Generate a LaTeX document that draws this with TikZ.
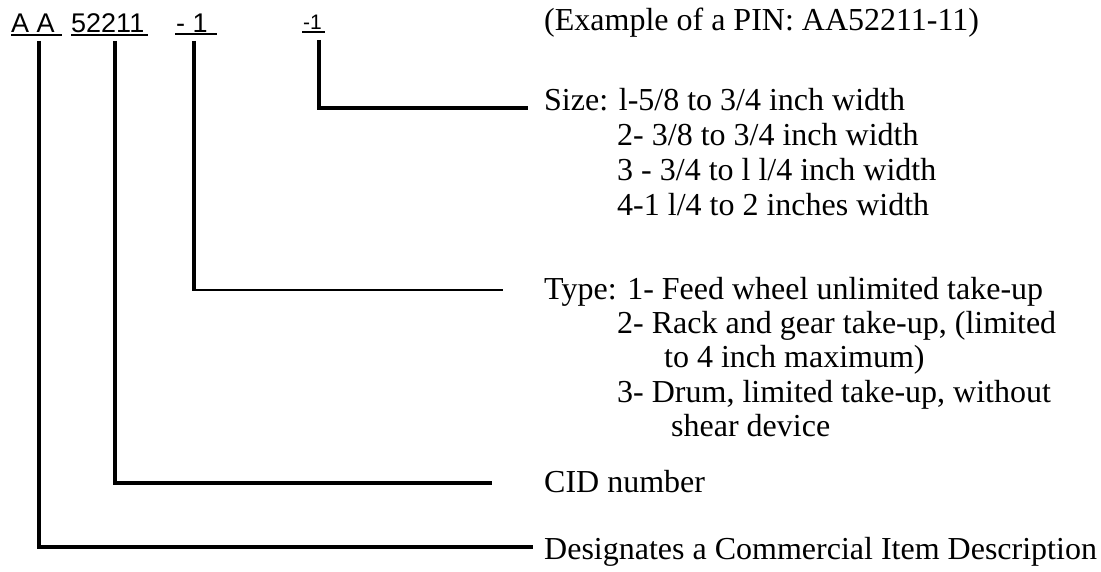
\documentclass[tikz,border=0pt]{standalone}
\usepackage{fontspec}
\setmainfont{Liberation Serif}
\newfontfamily\pinfont{Liberation Sans}
\begin{document}
\begin{tikzpicture}%
  [x=1pt,y=-1pt,
   pin/.style={font=\pinfont\fontsize{27}{30}\selectfont,inner sep=0,anchor=base west},
   desc/.style={font=\fontsize{32}{35}\selectfont,inner sep=0,anchor=base west}]
  \tikzstyle{lead}=[line width=3.3pt]
  \tikzstyle{bar}=[line width=1.8pt]
  \useasboundingbox (0,0) rectangle (1101,572);
  % the sample number
  \node(aa)[pin] at (11,33){A A};
  \node(cid)[pin] at (71,33){52211};
  \node(type)[pin] at (176,33){- 1};
  \node(size)[pin,font=\pinfont\fontsize{21}{25}\selectfont] at (303,30){-1};
  \draw[bar] (11,35) -- (62,35);
  \draw[bar] (71,35) -- (148,35);
  \draw[bar] (175,34) -- (217,34);
  \draw[bar] (302,32) -- (325,32);
  % what each part means
  \node(ex)[desc] at (544,31){(Example of a PIN: AA52211-11)};
  \node(s0)[desc] at (544,111){Size: l-5/8 to 3/4 inch width};
  \node(s1)[desc] at (617,146){2- 3/8 to 3/4 inch width};
  \node(s2)[desc] at (617,181){3 - 3/4 to l l/4 inch width};
  \node(s3)[desc] at (617,216){4-1 l/4 to 2 inches width};
  \node(t0)[desc] at (544,299){Type: 1- Feed wheel unlimited take-up};
  \node(t1)[desc] at (617,333){2- Rack and gear take-up, (limited};
  \node(t2)[desc] at (664,367){to 4 inch maximum)};
  \node(t3)[desc] at (617,402){3- Drum, limited take-up, without};
  \node(t4)[desc] at (671,436){shear device};
  \node(c0)[desc] at (544,492){CID number};
  \node(d0)[desc] at (544,559){Designates a Commercial Item Description};
  % leaders
  \coordinate(aa foot) at (39,41);
  \coordinate(cid foot) at (115,41);
  \coordinate(type foot) at (194,41);
  \coordinate(size foot) at (319,40);
  \coordinate(aa end) at (533,547);
  \coordinate(cid end) at (492,483);
  \coordinate(type bend) at (194,290);
  \coordinate(type end) at (503,290);
  \coordinate(size end) at (528,108);
  \draw[lead] (aa foot) |- (aa end);
  \draw[lead] (cid foot) |- (cid end);
  \draw[lead] (type foot) -- (type bend);
  \draw[bar] ([xshift=-1.65pt]type bend) -- (type end);
  \draw[lead,line width=4.5pt] (size foot) |- (size end);
\end{tikzpicture}
\end{document}
